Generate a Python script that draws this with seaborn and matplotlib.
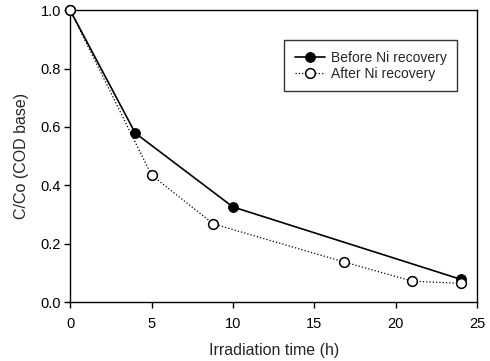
import matplotlib
matplotlib.use("Agg")
import matplotlib.pyplot as plt
import seaborn as sns
import pandas as pd

before_t = [0, 4, 10, 24]
before_c = [1.0, 0.579, 0.326, 0.078]
after_t = [0, 5, 8.8, 16.8, 21, 24]
after_c = [1.0, 0.435, 0.268, 0.138, 0.072, 0.064]
xticks = [0, 5, 10, 15, 20, 25]
yticks = [0.0, 0.2, 0.4, 0.6, 0.8, 1.0]

sns.set_theme(style="ticks")
plt.rcParams['font.family'] = ['Liberation Sans', 'DejaVu Sans']

fig = plt.figure(figsize=(4.9, 3.61), dpi=100)
ax = fig.add_axes([0.143, 0.163, 0.831, 0.809])

dfb = pd.DataFrame({"t": before_t, "c": before_c})
dfa = pd.DataFrame({"t": after_t, "c": after_c})

sns.lineplot(data=dfb, x="t", y="c", ax=ax, color="black", lw=1.2,
             marker="o", markersize=7, markerfacecolor="black",
             markeredgecolor="black", label="Before Ni recovery", zorder=3,
             clip_on=False)
sns.lineplot(data=dfa, x="t", y="c", ax=ax, color="black", lw=0.9,
             linestyle=":", marker="o", markersize=7, markerfacecolor="white",
             markeredgecolor="black", markeredgewidth=1.1,
             label="After Ni recovery", zorder=4, clip_on=False)

ax.set_xlim(0, 25)
ax.set_ylim(0, 1.0)
ax.set_xticks(xticks)
ax.set_yticks(yticks)
ax.set_xticklabels([str(v) for v in xticks])
ax.set_yticklabels([f"{v:.1f}" for v in yticks])
ax.tick_params(direction="out", length=4, width=1, labelsize=10.5, colors="black",
               top=False, right=False)
ax.tick_params(axis="x", pad=7)
ax.tick_params(axis="y", pad=2.5)
for s in ax.spines.values():
    s.set_color("black")
    s.set_linewidth(1)
    s.set_visible(True)
ax.set_xlabel("Irradiation time (h)", fontsize=11.5, labelpad=8)
ax.set_ylabel("C/Co (COD base)", fontsize=11.5, labelpad=8)

leg = ax.legend(loc="upper right", bbox_to_anchor=(0.951, 0.897), frameon=True,
                fancybox=False, fontsize=10, handlelength=2.2, handletextpad=0.4,
                borderpad=0.75, labelspacing=0.15, borderaxespad=0)
leg.get_frame().set_edgecolor("black")
leg.get_frame().set_linewidth(1)

fig.savefig("out.png", dpi=100)
